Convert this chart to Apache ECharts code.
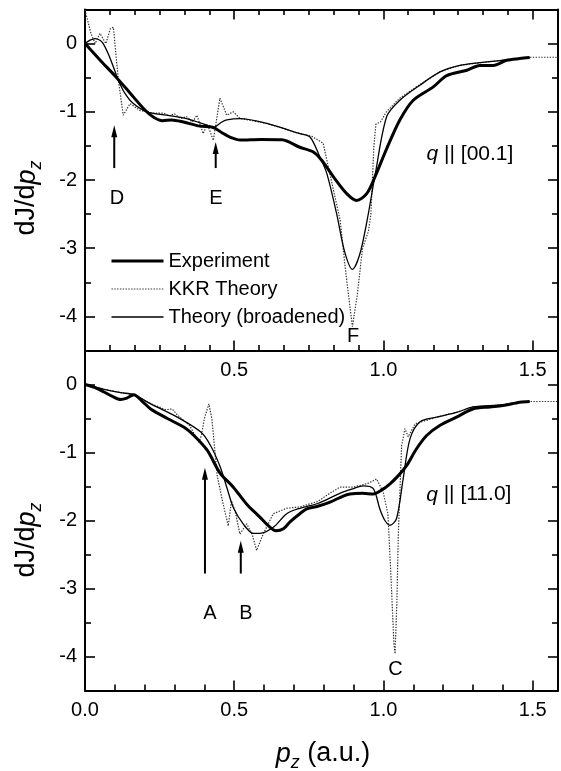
<!DOCTYPE html>
<html><head><meta charset="utf-8">
<script src="https://cdn.jsdelivr.net/npm/echarts@6/dist/echarts.min.js"></script>
<style>html,body{margin:0;padding:0;background:#fff}#c{width:561px;height:771px}</style>
</head><body><div id="c"></div>
<script>
// ---------- axis ranges & ticks ----------
const X_MAX = 1.585;
const Y_MIN = -4.5, Y_MAX = 0.5;
const xMajorTicks = [0, 0.5, 1.0, 1.5];
const xLabelsTopPanel = [0.5, 1.0, 1.5];
const xLabelsBottomPanel = [0, 0.5, 1.0, 1.5];
const xMinorTopPanel = [0.083,0.167,0.25,0.333,0.417,0.583,0.667,0.75,0.833,0.917,1.083,1.167,1.25,1.333,1.417];
const xMinorBottomPanel = [0.1,0.2,0.3,0.4,0.6,0.7,0.8,0.9,1.1,1.2,1.3,1.4];
const yMajorTicks = [-4, -3, -2, -1, 0];
const yMinorTicks = [-3.5, -2.5, -1.5, -0.5];

// ---------- top panel  q || [00.1] ----------
const topExperiment = [[0,0],[0.05,-0.24],[0.1,-0.47],[0.15,-0.72],[0.2,-0.97],[0.23,-1.08],[0.26,-1.13],[0.29,-1.12],[0.33,-1.15],[0.385,-1.21],[0.43,-1.23],[0.46,-1.31],[0.49,-1.38],[0.52,-1.415],[0.59,-1.405],[0.66,-1.41],[0.72,-1.52],[0.765,-1.59],[0.793,-1.71],[0.832,-1.95],[0.877,-2.2],[0.91,-2.3],[0.944,-2.2],[0.972,-1.95],[1.011,-1.54],[1.055,-1.12],[1.1,-0.83],[1.167,-0.635],[1.212,-0.47],[1.28,-0.39],[1.323,-0.32],[1.368,-0.32],[1.413,-0.245],[1.457,-0.22],[1.49,-0.205]];
const topKKR = [[0,0.49],[0.02,0.15],[0.034,0.0],[0.05,0.15],[0.07,0.0],[0.085,0.22],[0.095,0.24],[0.112,-0.54],[0.128,-1.05],[0.151,-0.88],[0.184,-0.98],[0.23,-1.02],[0.264,-1.02],[0.28,-1.06],[0.3,-1.03],[0.32,-1.1],[0.34,-1.07],[0.36,-1.15],[0.375,-1.05],[0.396,-1.32],[0.41,-1.18],[0.43,-1.42],[0.452,-0.8],[0.475,-1.05],[0.497,-1.0],[0.52,-1.1],[0.609,-1.17],[0.72,-1.32],[0.76,-1.36],[0.798,-1.46],[0.82,-1.9],[0.855,-2.59],[0.875,-3.4],[0.896,-4.15],[0.912,-3.7],[0.93,-3.0],[0.95,-2.75],[0.958,-2.5],[0.968,-1.5],[0.975,-1.18],[0.99,-1.15],[1.01,-1.0],[1.055,-0.8],[1.122,-0.6],[1.19,-0.41],[1.256,-0.32],[1.323,-0.28],[1.413,-0.24],[1.49,-0.2],[1.585,-0.2]];
const topBroadened = [[0,0],[0.017,0.05],[0.034,0.073],[0.05,0.05],[0.061,0],[0.08,-0.17],[0.095,-0.34],[0.112,-0.54],[0.134,-0.73],[0.162,-0.88],[0.207,-1.0],[0.274,-1.05],[0.34,-1.1],[0.408,-1.195],[0.43,-1.23],[0.455,-1.16],[0.475,-1.12],[0.52,-1.10],[0.609,-1.17],[0.72,-1.32],[0.754,-1.37],[0.787,-1.66],[0.81,-1.9],[0.843,-2.49],[0.87,-3.05],[0.896,-3.31],[0.92,-3.1],[0.945,-2.6],[0.972,-1.93],[1.011,-1.07],[1.055,-0.83],[1.122,-0.61],[1.19,-0.415],[1.256,-0.32],[1.323,-0.28],[1.413,-0.24],[1.49,-0.205]];

// ---------- bottom panel  q || [11.0] ----------
const bottomExperiment = [[0,0],[0.03,-0.04],[0.064,-0.11],[0.09,-0.17],[0.12,-0.22],[0.14,-0.2],[0.164,-0.15],[0.19,-0.24],[0.22,-0.36],[0.276,-0.5],[0.332,-0.63],[0.365,-0.75],[0.41,-0.97],[0.452,-1.3],[0.497,-1.51],[0.542,-1.76],[0.586,-1.95],[0.615,-2.08],[0.64,-2.15],[0.665,-2.12],[0.687,-2.02],[0.72,-1.9],[0.743,-1.83],[0.78,-1.79],[0.821,-1.73],[0.865,-1.64],[0.888,-1.61],[0.93,-1.6],[0.966,-1.61],[0.995,-1.55],[1.022,-1.46],[1.05,-1.34],[1.078,-1.19],[1.111,-0.945],[1.145,-0.75],[1.19,-0.6],[1.245,-0.48],[1.30,-0.36],[1.357,-0.33],[1.40,-0.31],[1.457,-0.26],[1.49,-0.25]];
const bottomKKR = [[0,0],[0.064,-0.07],[0.12,-0.12],[0.164,-0.15],[0.22,-0.28],[0.27,-0.37],[0.292,-0.36],[0.31,-0.45],[0.35,-0.6],[0.382,-0.85],[0.39,-0.75],[0.4,-0.5],[0.415,-0.285],[0.425,-0.5],[0.443,-1.34],[0.46,-1.7],[0.48,-2.08],[0.491,-1.71],[0.505,-1.9],[0.519,-2.2],[0.542,-2.05],[0.56,-2.2],[0.575,-2.44],[0.597,-2.2],[0.631,-1.9],[0.676,-1.82],[0.72,-1.8],[0.78,-1.72],[0.82,-1.6],[0.854,-1.51],[0.9,-1.51],[0.95,-1.45],[0.977,-1.39],[0.999,-1.58],[1.015,-1.9],[1.025,-2.8],[1.035,-3.8],[1.039,-3.96],[1.045,-3.2],[1.05,-2.2],[1.061,-0.9],[1.072,-0.65],[1.083,-0.77],[1.106,-0.58],[1.178,-0.48],[1.245,-0.41],[1.30,-0.33],[1.357,-0.31],[1.40,-0.3],[1.457,-0.26],[1.49,-0.25],[1.585,-0.25]];
const bottomBroadened = [[0,0],[0.064,-0.07],[0.12,-0.12],[0.164,-0.15],[0.22,-0.285],[0.309,-0.48],[0.388,-0.7],[0.421,-0.9],[0.452,-1.2],[0.475,-1.51],[0.497,-1.81],[0.53,-2.05],[0.564,-2.19],[0.586,-2.19],[0.631,-2.1],[0.676,-1.9],[0.72,-1.82],[0.78,-1.75],[0.854,-1.6],[0.9,-1.53],[0.932,-1.49],[0.966,-1.53],[0.988,-1.83],[1.005,-2.0],[1.022,-2.07],[1.044,-1.97],[1.066,-1.39],[1.089,-0.8],[1.122,-0.55],[1.178,-0.48],[1.245,-0.41],[1.30,-0.33],[1.357,-0.31],[1.40,-0.3],[1.457,-0.26],[1.49,-0.25]];

// ---------- annotations ----------
const topLetters = [[0.107,-2.264,'D'],[0.439,-2.264,'E'],[0.898,-4.298,'F']];
const bottomLetters = [[0.419,-3.369,'A'],[0.539,-3.369,'B'],[1.040,-4.198,'C']];
const topArrows = [[0.098,-1.825,-1.196],[0.438,-1.825,-1.444]];      // x, tail y, tip y
const bottomArrows = [[0.402,-2.78,-1.225],[0.522,-2.78,-2.297]];
const topPanelTag = [[1.29,-1.62,'{i|q}{n| || [00.1]}']];
const bottomPanelTag = [[1.286,-1.62,'{i|q}{n| || [11.0]}']];
const seriesNames = ['Experiment','KKR Theory','Theory (broadened)'];

const F = "'Liberation Sans', Arial, Helvetica, sans-serif";
const BLACK = '#000';
const STYLE_EXP = {color:BLACK, width:3};
const STYLE_THIN = {color:BLACK, width:1.3};
const STYLE_DOT = {color:'#333', width:1.2, type:[1.4,1.4]};

function xAx(grid, pos, ticks, len, labels, showLine) {
  return {
    type:'value', gridIndex:grid, position:pos, min:0, max:X_MAX,
    axisLine:{show:showLine, onZero:false, lineStyle:{color:BLACK, width:2}},
    axisTick:{show:true, inside:true, length:len, customValues:ticks, lineStyle:{color:BLACK, width:1.6}},
    axisLabel: labels ? {show:true, customValues:labels, formatter:v=>Number(v).toFixed(1), margin:10,
      fontSize:20, fontFamily:F, color:BLACK} : {show:false},
    splitLine:{show:false}
  };
}
function yAx(grid, pos, ticks, len, labels, showLine) {
  return {
    type:'value', gridIndex:grid, position:pos, min:Y_MIN, max:Y_MAX,
    axisLine:{show:showLine, onZero:false, lineStyle:{color:BLACK, width:2}},
    axisTick:{show:true, inside:true, length:len, customValues:ticks, lineStyle:{color:BLACK, width:1.6}},
    axisLabel: labels ? {show:true, customValues:labels, formatter:v=>String(v), margin:8,
      fontSize:20, fontFamily:F, color:BLACK} : {show:false},
    splitLine:{show:false}
  };
}

const xAxes = [
  xAx(0,'bottom',xMajorTicks,10,xLabelsTopPanel,true),   // 0
  xAx(0,'bottom',xMinorTopPanel,5.5,null,false),         // 1
  xAx(0,'top',xMajorTicks,10,null,true),                 // 2
  xAx(0,'top',xMinorTopPanel,5.5,null,false),            // 3
  xAx(1,'bottom',xMajorTicks,10,xLabelsBottomPanel,true),// 4
  xAx(1,'bottom',xMinorBottomPanel,6,null,false)         // 5
];
const yAxes = [
  yAx(0,'left',yMajorTicks,10,yMajorTicks,true),  // 0
  yAx(0,'left',yMinorTicks,6,null,false),         // 1
  yAx(0,'right',yMajorTicks,10,null,true),        // 2
  yAx(0,'right',yMinorTicks,6,null,false),        // 3
  yAx(1,'left',yMajorTicks,10,yMajorTicks,true),  // 4
  yAx(1,'left',yMinorTicks,6,null,false),         // 5
  yAx(1,'right',yMajorTicks,10,null,true),        // 6
  yAx(1,'right',yMinorTicks,6,null,false)         // 7
];

function lineSeries(name, data, xi, yi, kind) {
  const s = {name, type:'line', data, xAxisIndex:xi, yAxisIndex:yi, symbol:'none', animation:false, silent:true};
  if (kind === 'exp') { s.smooth = 0.3; s.lineStyle = STYLE_EXP; s.itemStyle={color:BLACK}; s.z = 5; }
  else if (kind === 'thin') { s.smooth = 0.3; s.lineStyle = STYLE_THIN; s.itemStyle={color:BLACK}; s.z = 4; }
  else { s.smooth = false; s.lineStyle = STYLE_DOT; s.itemStyle={color:'#333'}; s.z = 3; }
  return s;
}
const textRich = {
  n:{fontSize:21, fontFamily:F, fill:BLACK},
  i:{fontSize:21, fontFamily:F, fontStyle:'italic', fill:BLACK}
};
function textSeries(data, xi, yi, size) {
  return {type:'custom', data, xAxisIndex:xi, yAxisIndex:yi, silent:true, animation:false, z:6,
    renderItem:(params, api) => {
      const p = api.coord([api.value(0), api.value(1)]);
      const txt = data[params.dataIndex][2];
      return {type:'text', x:p[0], y:p[1],
        style:{text:txt, fill:BLACK, fontSize:size, fontFamily:F, align:'center', verticalAlign:'middle', rich:textRich}};
    }};
}
function arrowSeries(data, xi, yi) {
  return {type:'custom', data, xAxisIndex:xi, yAxisIndex:yi, silent:true, animation:false, z:6,
    renderItem:(params, api) => {
      const tail = api.coord([api.value(0), api.value(1)]);
      const tip = api.coord([api.value(0), api.value(2)]);
      const headH = 12, headW = 3;
      return {type:'group', children:[
        {type:'line', shape:{x1:tail[0], y1:tail[1], x2:tip[0], y2:tip[1]+headH-1}, style:{stroke:BLACK, lineWidth:2}},
        {type:'polygon', shape:{points:[[tip[0],tip[1]],[tip[0]-headW,tip[1]+headH],[tip[0]+headW,tip[1]+headH]]}, style:{fill:BLACK}}
      ]};
    }};
}

const titleRich = {
  n:{fontSize:27, fontFamily:F, fill:BLACK, lineHeight:36},
  i:{fontSize:27, fontFamily:F, fontStyle:'italic', fill:BLACK, lineHeight:36},
  s:{fontSize:18, fontFamily:F, fontStyle:'italic', fill:BLACK, lineHeight:18, verticalAlign:'bottom'}
};

const option = {
  backgroundColor:'#fff',
  animation:false,
  grid:[
    {left:85, right:3, top:9.5, height:341, containLabel:false},
    {left:85, right:3, top:350.5, height:340, containLabel:false}
  ],
  xAxis:xAxes,
  yAxis:yAxes,
  legend:{
    data:[
      {name:seriesNames[0], lineStyle:STYLE_EXP},
      {name:seriesNames[1], lineStyle:STYLE_DOT},
      {name:seriesNames[2], lineStyle:STYLE_THIN}
    ],
    orient:'vertical', left:105, top:246, itemWidth:52, itemHeight:20, itemGap:8,
    selectedMode:false, itemStyle:{opacity:0}, textStyle:{fontSize:20, fontFamily:F, color:BLACK}
  },
  graphic:[
    {type:'text', x:27, y:198, rotation:Math.PI/2, style:{text:'{n|dJ/d}{i|p}{s|z}', rich:titleRich, align:'center', verticalAlign:'middle'}},
    {type:'text', x:27, y:540, rotation:Math.PI/2, style:{text:'{n|dJ/d}{i|p}{s|z}', rich:titleRich, align:'center', verticalAlign:'middle'}},
    {type:'text', x:323, y:754, style:{text:'{i|p}{s|z}{n| (a.u.)}', rich:titleRich, align:'center', verticalAlign:'middle'}}
  ],
  series:[
    lineSeries(seriesNames[1], topKKR, 0, 0, 'dot'),
    lineSeries(seriesNames[2], topBroadened, 0, 0, 'thin'),
    lineSeries(seriesNames[0], topExperiment, 0, 0, 'exp'),
    lineSeries(seriesNames[1], bottomKKR, 4, 4, 'dot'),
    lineSeries(seriesNames[2], bottomBroadened, 4, 4, 'thin'),
    lineSeries(seriesNames[0], bottomExperiment, 4, 4, 'exp'),
    textSeries(topLetters, 0, 0, 20),
    textSeries(bottomLetters, 4, 4, 20),
    textSeries(topPanelTag, 0, 0, 21),
    textSeries(bottomPanelTag, 4, 4, 21),
    arrowSeries(topArrows, 0, 0),
    arrowSeries(bottomArrows, 4, 4)
  ]
};
const chart = echarts.init(document.getElementById('c'), null, {renderer:'canvas'});
chart.setOption(option);
</script></body></html>
